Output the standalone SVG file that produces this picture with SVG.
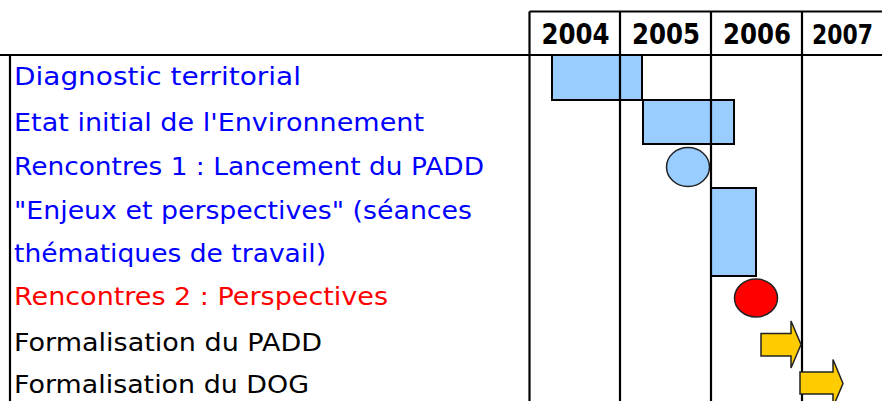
<svg xmlns="http://www.w3.org/2000/svg" width="882" height="401" viewBox="0 0 882 401">
<style>
.grid{stroke:#000;stroke-width:2.2;fill:none}
.lbl{font-family:"Comic Sans MS","DejaVu Sans","Noto Sans",sans-serif;font-size:24px}
.yr{font-family:"Comic Sans MS","DejaVu Sans","Noto Sans",sans-serif;font-size:29px;font-weight:bold;fill:#000;text-anchor:middle}
.bar{fill:#99CCFF;stroke:#000;stroke-width:2}
.blue{fill:#0000FF}
.red{fill:#FF0000}
.blk{fill:#000}
.arr{fill:#FFCC00;stroke:#222;stroke-width:1.5}
</style>
<rect width="882" height="401" fill="#fff"/>
<g id="bars">
<rect id="bar-diagnostic" class="bar" x="552" y="55" width="90" height="45"/>
<rect id="bar-etat" class="bar" x="643" y="100" width="91" height="44"/>
<ellipse id="milestone-rencontres1" cx="688" cy="167" rx="21.5" ry="19.5" fill="#99CCFF" stroke="#222" stroke-width="1.5"/>
<rect id="bar-enjeux" class="bar" x="711" y="188" width="45" height="88"/>
<ellipse id="milestone-rencontres2" cx="756" cy="298" rx="21.5" ry="19" fill="#FF0000" stroke="#222" stroke-width="1.5"/>
</g>
<g id="grid">
<line class="grid" x1="529.5" y1="11.5" x2="882" y2="11.5"/>
<line class="grid" x1="0" y1="55" x2="882" y2="55"/>
<line class="grid" x1="10" y1="55" x2="10" y2="401"/>
<line class="grid" x1="529.5" y1="11.5" x2="529.5" y2="401"/>
<line class="grid" x1="620" y1="11.5" x2="620" y2="401"/>
<line class="grid" x1="711" y1="11.5" x2="711" y2="401"/>
<line class="grid" x1="802" y1="11.5" x2="802" y2="401"/>
</g>
<g id="arrows">
<polygon id="arrow-padd" class="arr" points="761,333.5 791,333.5 791,321 801,344.5 791,368 791,356 761,356"/>
<polygon id="arrow-dog" class="arr" points="800,372 833,372 833,359.5 843,383.5 833,407 833,394 800,394"/>
</g>
<g id="years">
<text class="yr" x="575.5" y="44" textLength="68" lengthAdjust="spacingAndGlyphs">2004</text>
<text class="yr" x="666" y="44" textLength="68" lengthAdjust="spacingAndGlyphs">2005</text>
<text class="yr" x="757" y="44" textLength="68" lengthAdjust="spacingAndGlyphs">2006</text>
<text class="yr" x="873" y="44" style="text-anchor:end;font-size:27px" textLength="61" lengthAdjust="spacingAndGlyphs">2007</text>
</g>
<g id="labels">
<text class="lbl blue" x="14" y="85" textLength="287" lengthAdjust="spacingAndGlyphs">Diagnostic territorial</text>
<text class="lbl blue" x="14" y="131" textLength="410" lengthAdjust="spacingAndGlyphs">Etat initial de l'Environnement</text>
<text class="lbl blue" x="14" y="175" textLength="470" lengthAdjust="spacingAndGlyphs">Rencontres 1 : Lancement du PADD</text>
<text class="lbl blue" x="14" y="219" textLength="458" lengthAdjust="spacingAndGlyphs">"Enjeux et perspectives" (séances</text>
<text class="lbl blue" x="14" y="262" textLength="312" lengthAdjust="spacingAndGlyphs">thématiques de travail)</text>
<text class="lbl red" x="14" y="305" textLength="374" lengthAdjust="spacingAndGlyphs">Rencontres 2 : Perspectives</text>
<text class="lbl blk" x="14" y="351" textLength="308" lengthAdjust="spacingAndGlyphs">Formalisation du PADD</text>
<text class="lbl blk" x="14" y="393" textLength="295" lengthAdjust="spacingAndGlyphs">Formalisation du DOG</text>
</g>
</svg>
